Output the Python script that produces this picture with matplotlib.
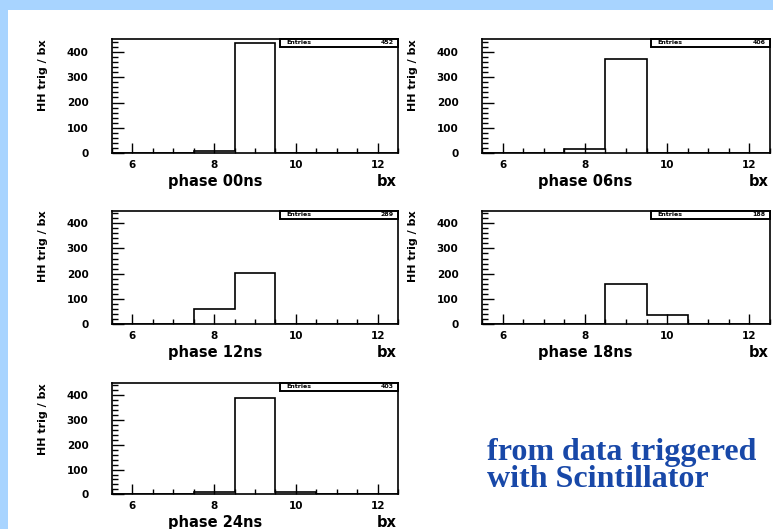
import matplotlib
matplotlib.use('Agg')
import matplotlib.pyplot as plt
from matplotlib.patches import Rectangle
from matplotlib.ticker import MultipleLocator

# --- data ---
bin_edges = [5.5, 6.5, 7.5, 8.5, 9.5, 10.5, 11.5, 12.5]
phases = ['00', '06', '12', '18', '24']
counts_00 = [0, 0, 8, 433, 3, 0, 0]
counts_06 = [0, 0, 18, 372, 3, 0, 0]
counts_12 = [0, 0, 61, 204, 3, 0, 0]
counts_18 = [0, 0, 0, 160, 37, 0, 0]
counts_24 = [0, 0, 8, 390, 8, 0, 0]
entries = [452, 406, 289, 188, 403]
all_counts = [counts_00, counts_06, counts_12, counts_18, counts_24]

BG_BLUE, TXT_BLUE = '#a8d4ff', '#1848a8'
W, H = 773, 529

fig = plt.figure(figsize=(W / 100, H / 100), dpi=100)
fig.patch.set_facecolor(BG_BLUE)
fig.patches.append(Rectangle((8 / W, 0), 1, (H - 10) / H, transform=fig.transFigure,
                             facecolor='white', edgecolor='none', zorder=-1))

# axes boxes in pixels: left, top, right, bottom
boxes = [(112, 39, 398, 153.3), (482, 39, 770, 153.3),
         (112, 210.5, 398, 324.3), (482, 210.5, 770, 324.3),
         (112, 383, 398, 494.3)]

sans = 'DejaVu Sans'
for (x0, y0, x1, y1), ph, cnt, n in zip(boxes, phases, all_counts, entries):
    ax = fig.add_axes([x0 / W, 1 - y1 / H, (x1 - x0) / W, (y1 - y0) / H])
    ax.set_facecolor('none')
    ax.stairs(cnt, bin_edges, fill=False, color='black', lw=1.2, baseline=0)
    ax.set_xlim(5.5, 12.5)
    ax.set_ylim(0, 450)
    for s in ax.spines.values():
        s.set_linewidth(1.2)
    ax.xaxis.set_major_locator(MultipleLocator(2))
    ax.xaxis.set_minor_locator(MultipleLocator(0.5))
    ax.yaxis.set_major_locator(MultipleLocator(100))
    ax.yaxis.set_minor_locator(MultipleLocator(20))
    ax.tick_params(which='both', direction='in', top=False, right=False, width=1.0)
    ax.xaxis.set_tick_params(which='major', length=7, pad=4.5)
    ax.xaxis.set_tick_params(which='minor', length=3.6)
    ax.yaxis.set_tick_params(which='major', length=8.6, pad=17)
    ax.yaxis.set_tick_params(which='minor', length=4.3)
    for lab in ax.get_xticklabels() + ax.get_yticklabels():
        lab.set_fontfamily(sans)
        lab.set_fontweight('bold')
        lab.set_fontsize(7.5)

    ax.set_ylabel('HH trig / bx', loc='top', fontfamily=sans, fontweight='bold',
                  fontsize=8, labelpad=13)
    ax.annotate('phase %sns' % ph, xy=(0.36, 0), xycoords='axes fraction',
                xytext=(0, -20.5), textcoords='offset points', ha='center', va='center',
                fontfamily=sans, fontweight='bold', fontsize=10.5)
    ax.annotate('bx', xy=(1.0, 0), xycoords='axes fraction',
                xytext=(-1, -20.5), textcoords='offset points', ha='right', va='center',
                fontfamily=sans, fontweight='bold', fontsize=10.5)

    # stats box
    bh = 8 / (y1 - y0)
    ax.add_patch(Rectangle((0.586, 1 - bh), 0.414, bh, transform=ax.transAxes,
                           facecolor='white', edgecolor='black', lw=1.4, zorder=5, clip_on=False))
    ax.text(0.61, 1 - bh / 2, 'Entries', transform=ax.transAxes, ha='left', va='center',
            fontfamily=sans, fontweight='bold', fontsize=4.5, zorder=6)
    ax.text(0.985, 1 - bh / 2, str(n), transform=ax.transAxes, ha='right', va='center',
            fontfamily=sans, fontweight='bold', fontsize=4.5, zorder=6)

fig.text(487 / W, 1 - 460 / H, 'from data triggered', fontfamily='Liberation Serif',
         fontweight='bold', fontsize=23, color=TXT_BLUE, ha='left', va='baseline')
fig.text(487 / W, 1 - 487 / H, 'with Scintillator', fontfamily='Liberation Serif',
         fontweight='bold', fontsize=23, color=TXT_BLUE, ha='left', va='baseline')

fig.savefig('out.png', dpi=100, facecolor=fig.get_facecolor())
